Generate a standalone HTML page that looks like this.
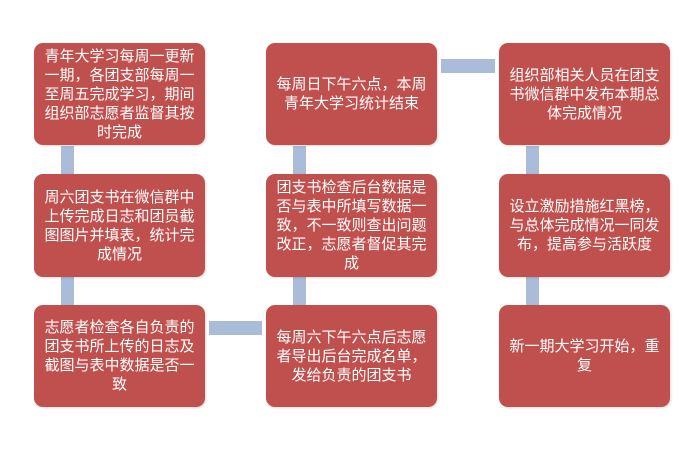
<!DOCTYPE html>
<html><head><meta charset="utf-8"><style>
body{margin:0;width:698px;height:453px;background:#fff;position:relative;overflow:hidden;font-family:"Liberation Sans","Noto Sans CJK SC",sans-serif}
.b{position:absolute;background:#c0504d;border-radius:9px;color:#fff;font-size:15px;line-height:19px;display:flex;align-items:center;justify-content:center;text-align:center;box-sizing:border-box;padding:0 2px;white-space:nowrap;box-shadow:1px 1px 2px rgba(0,0,0,.15)}
.c{position:absolute;background:#a9bcd9}
</style></head><body>
<div class="c" style="left:61px;top:146px;width:13px;height:28px"></div>
<div class="c" style="left:61px;top:277px;width:13px;height:28px"></div>
<div class="c" style="left:293px;top:146px;width:13px;height:28px"></div>
<div class="c" style="left:293px;top:277px;width:13px;height:28px"></div>
<div class="c" style="left:526px;top:146px;width:13px;height:28px"></div>
<div class="c" style="left:526px;top:277px;width:13px;height:28px"></div>
<div class="c" style="left:441px;top:59px;width:54px;height:14px"></div>
<div class="c" style="left:209px;top:321px;width:53px;height:14px"></div>

<div class="b" style="left:34px;top:43px;width:171px;height:102px"><div>青年大学习每周一更新<br>一期，各团支部每周一<br>至周五完成学习，期间<br>组织部志愿者监督其按<br>时完成</div></div>
<div class="b" style="left:34px;top:174px;width:171px;height:103px"><div>周六团支书在微信群中<br>上传完成日志和团员截<br>图图片并填表，统计完<br>成情况</div></div>
<div class="b" style="left:34px;top:305px;width:171px;height:102px"><div>志愿者检查各自负责的<br>团支书所上传的日志及<br>截图与表中数据是否一<br>致</div></div>

<div class="b" style="left:266px;top:43px;width:171px;height:102px"><div>每周日下午六点，本周<br>青年大学习统计结束</div></div>
<div class="b" style="left:266px;top:174px;width:171px;height:103px"><div>团支书检查后台数据是<br>否与表中所填写数据一<br>致，不一致则查出问题<br>改正，志愿者督促其完<br>成</div></div>
<div class="b" style="left:266px;top:305px;width:171px;height:102px"><div>每周六下午六点后志愿<br>者导出后台完成名单，<br>发给负责的团支书</div></div>

<div class="b" style="left:499px;top:43px;width:171px;height:102px"><div>组织部相关人员在团支<br>书微信群中发布本期总<br>体完成情况</div></div>
<div class="b" style="left:499px;top:174px;width:171px;height:103px"><div>设立激励措施红黑榜，<br>与总体完成情况一同发<br>布，提高参与活跃度</div></div>
<div class="b" style="left:499px;top:305px;width:171px;height:102px"><div>新一期大学习开始，重<br>复</div></div>
</body></html>
